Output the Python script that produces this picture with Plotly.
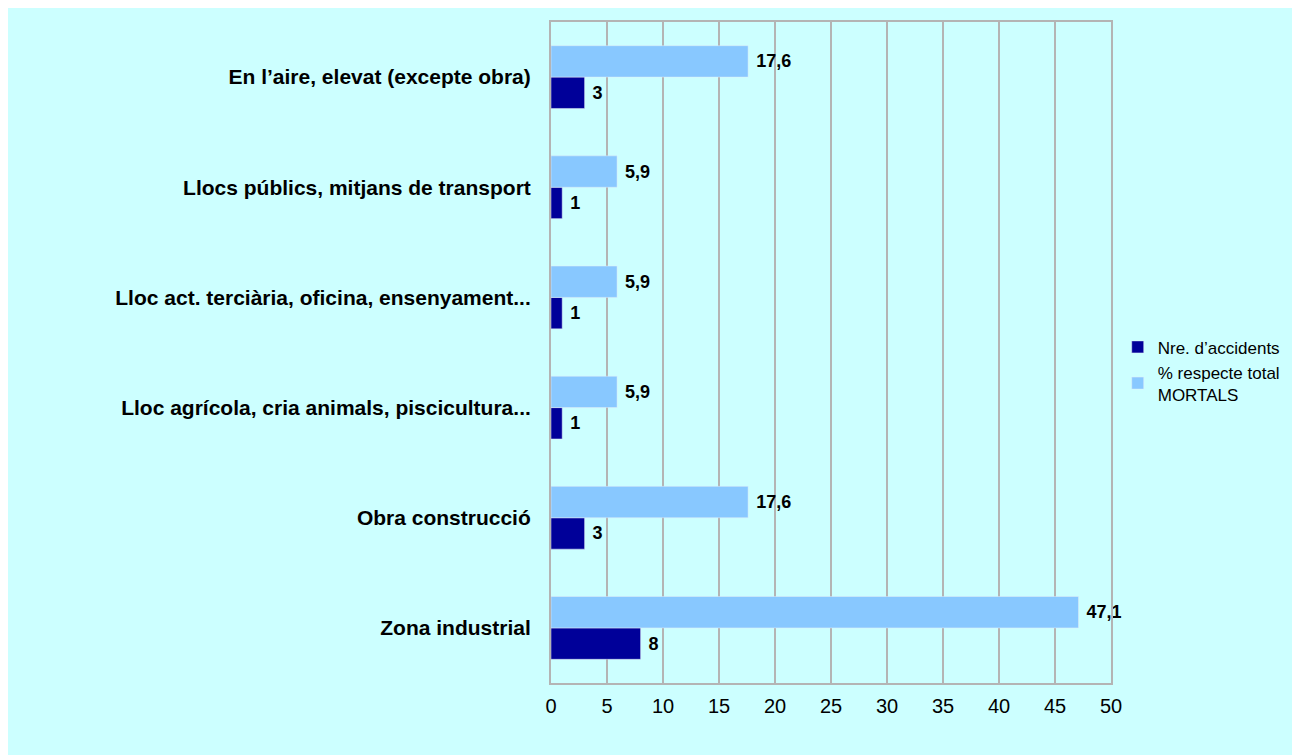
import plotly.graph_objects as go

# categories listed bottom to top, as plotly draws them
categories = [
    "Zona industrial",
    "Obra construcció",
    "Lloc agrícola, cria animals, piscicultura...",
    "Lloc act. terciària, oficina, ensenyament...",
    "Llocs públics, mitjans de transport",
    "En l’aire, elevat (excepte obra)",
]
n_accidents = [8, 3, 1, 1, 1, 3]
pct_mortals = [47.1, 17.6, 5.9, 5.9, 5.9, 17.6]
x_ticks = [0, 5, 10, 15, 20, 25, 30, 35, 40, 45, 50]

FONT = "Liberation Sans, Arial, sans-serif"
BG = "#CCFFFF"
GRID = "#B4B4B4"
LABEL_FONT = dict(family=FONT, size=18, color="black", weight="bold")

fig = go.Figure()
fig.add_trace(go.Bar(
    y=categories, x=n_accidents, orientation="h",
    name="Nre. d’accidents", marker_color="#000099",
    texttemplate="\u00a0%{x}", textposition="outside",
    textfont=LABEL_FONT, cliponaxis=False,
))
fig.add_trace(go.Bar(
    y=categories, x=pct_mortals, orientation="h",
    name="% respecte total<br>MORTALS", marker_color="#88C8FF",
    texttemplate="\u00a0%{x}", textposition="outside",
    textfont=LABEL_FONT, cliponaxis=False,
))

fig.update_layout(
    width=1300, height=755,
    margin=dict(l=543, r=197, t=14, b=80),
    paper_bgcolor=BG, plot_bgcolor=BG,
    barmode="group", bargap=0.43, bargroupgap=0,
    separators=",.",
    font=dict(family=FONT, size=20, color="black"),
    showlegend=True,
    legend=dict(
        x=1.012, y=0.535, xanchor="left", yanchor="top",
        bgcolor="rgba(0,0,0,0)", font=dict(size=17),
        tracegroupgap=0,
    ),
)
fig.update_xaxes(
    range=[0, 50], tickvals=x_ticks, showgrid=True, gridcolor=GRID, gridwidth=1.5,
    showline=True, linecolor=GRID, linewidth=2, mirror=True,
    ticks="", ticklabelstandoff=4, zeroline=False,
    tickfont=dict(size=20),
)
fig.update_yaxes(
    showgrid=False, showline=True, linecolor=GRID, linewidth=2, mirror=True,
    ticks="", ticklabelstandoff=14,
    tickfont=dict(size=21, weight="bold"),
)

fig.write_html("out.html")
